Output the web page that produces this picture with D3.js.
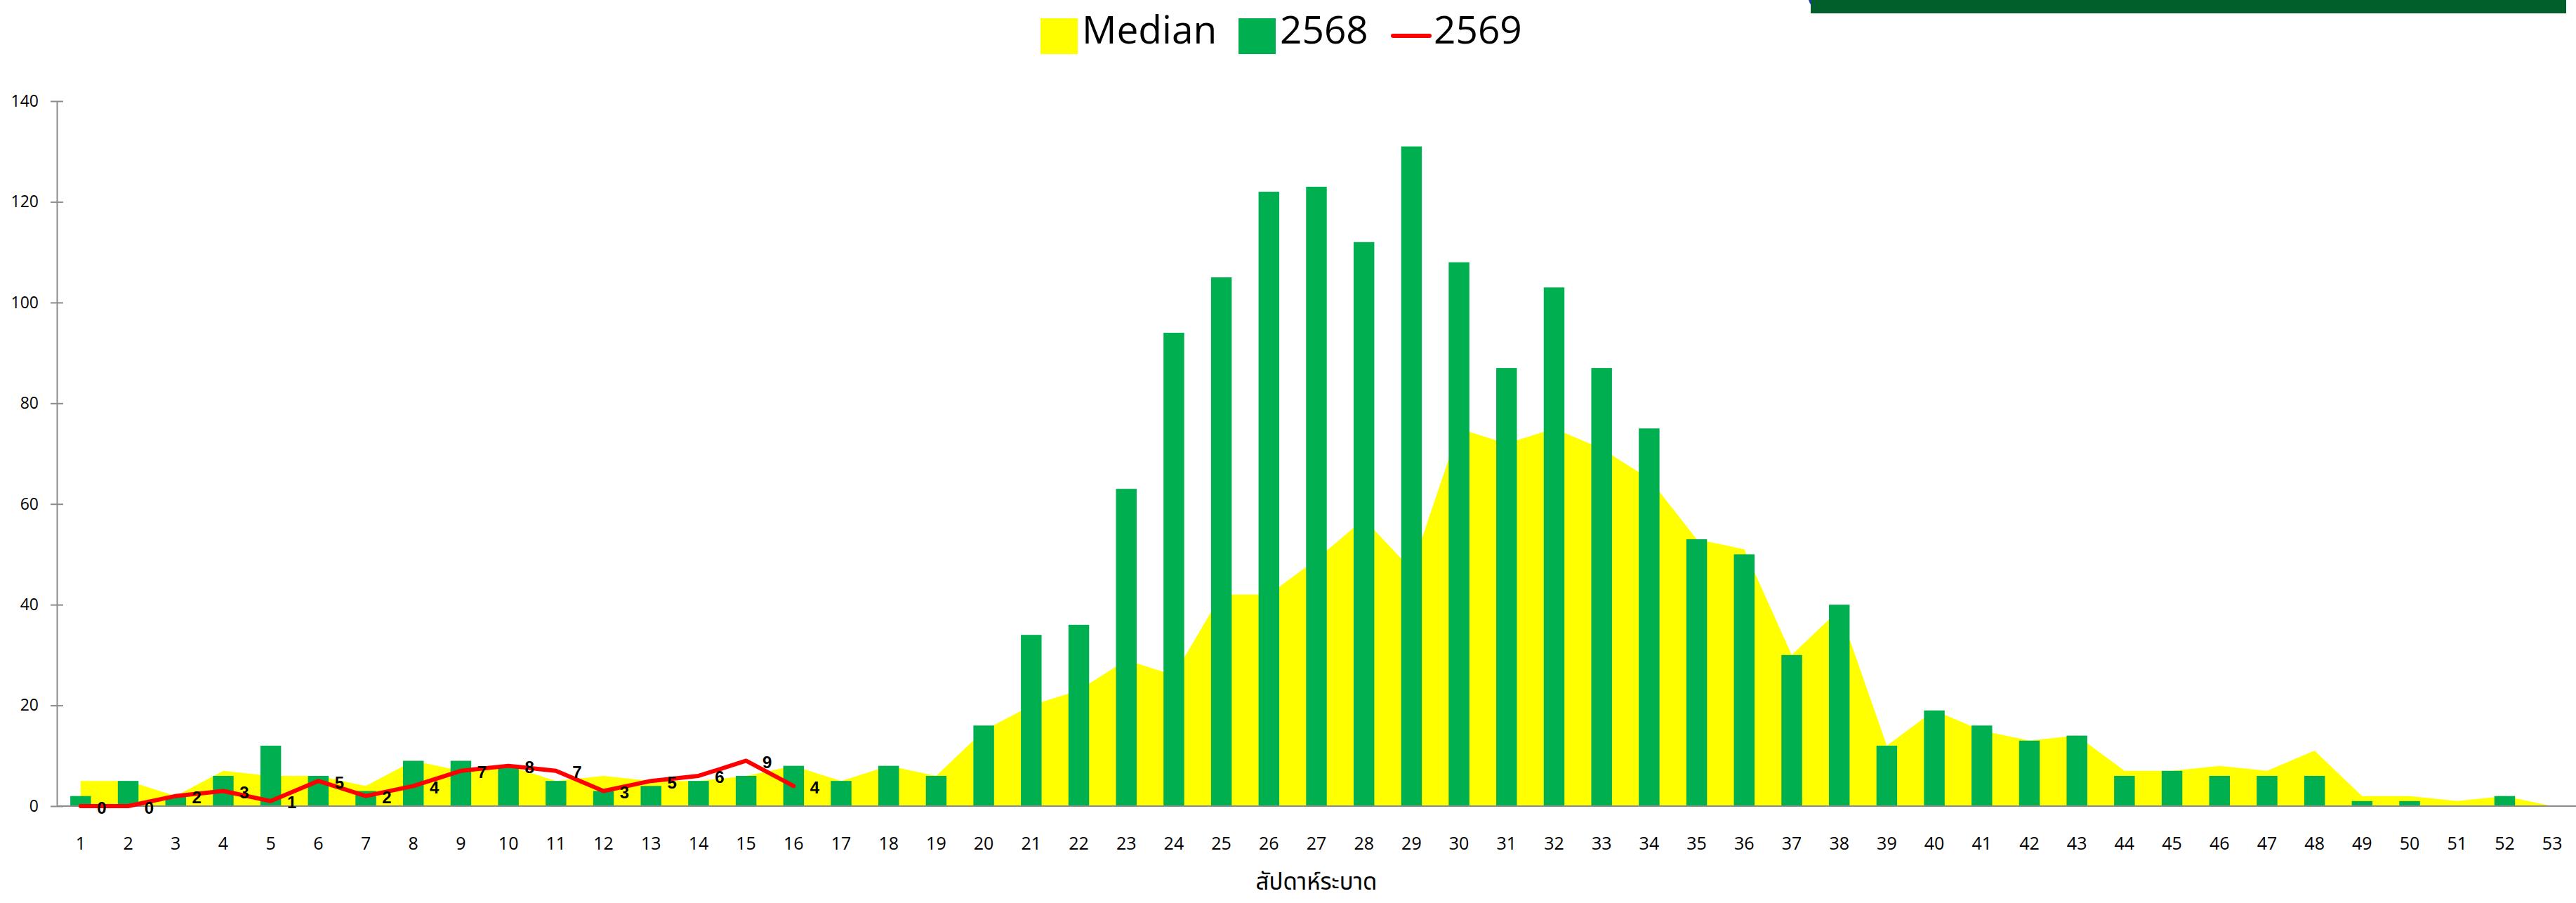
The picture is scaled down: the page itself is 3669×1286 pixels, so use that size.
<!DOCTYPE html>
<html>
<head>
<meta charset="utf-8">
<script src="https://cdn.jsdelivr.net/npm/d3@7/dist/d3.min.js"></script>
<style>
  html, body { margin: 0; padding: 0; background: #ffffff; }
  svg { display: block; }
</style>
</head>
<body>
<script>
// ---------------- data ----------------
const weeks = ["1","2","3","4","5","6","7","8","9","10","11","12","13","14","15","16","17","18","19","20",
  "21","22","23","24","25","26","27","28","29","30","31","32","33","34","35","36","37","38","39","40",
  "41","42","43","44","45","46","47","48","49","50","51","52","53"];
const median = [5,5,2,7,6,6,4,9,7,8,5,6,5,5,6,8,5,8,6,15,20,23,29,26,42,42,49,57,47,75,72,75,71,65,53,51,30,39,12,19,15,13,14,7,7,8,7,11,2,2,1,2,0];
const y2568 = [2,5,2,6,12,6,3,9,9,8,5,3,4,5,6,8,5,8,6,16,34,36,63,94,105,122,123,112,131,108,87,103,87,75,53,50,30,40,12,19,16,13,14,6,7,6,6,6,1,1,0,2,0];
const y2569 = [0,0,2,3,1,5,2,4,7,8,7,3,5,6,9,4];
const yTicks = [0,20,40,60,80,100,120,140];
const seriesNames = ["Median","2568","2569"];
const xTitle = "สัปดาห์ระบาด";

// ---------------- layout ----------------
const W = 3669, H = 1286;
const FONT = "'Open Sans', 'Liberation Sans', sans-serif";
const svg = d3.select("body").append("svg").attr("width", W).attr("height", H);

const x = d3.scaleBand().domain(weeks).range([81, 3669]).padding(0);
const y = d3.scaleLinear().domain([0, 140]).range([1148, 144]);
const cx = d => x(d) + x.bandwidth() / 2;
const barW = x.bandwidth() * 0.435;

// top green band
svg.append("rect").attr("x", 2579).attr("y", 0).attr("width", 1076).attr("height", 19).attr("fill", "#005F2B");
svg.append("path").attr("d", "M2576,0 L2580,0 L2580,8 Q2577,4 2576,0 Z").attr("fill", "#1F3F9F");

// median area
const area = d3.area()
  .x((d, i) => cx(weeks[i]))
  .y0(y(0))
  .y1(d => y(d));
svg.append("path").datum(median).attr("d", area).attr("fill", "#FFFF00");

// bars 2568
svg.append("g").selectAll("rect").data(y2568).join("rect")
  .attr("x", (d, i) => cx(weeks[i]) - barW / 2)
  .attr("y", d => y(d))
  .attr("width", barW)
  .attr("height", d => y(0) - y(d))
  .attr("fill", "#00B050");

// x axis line
svg.append("line").attr("x1", 81).attr("x2", 3669).attr("y1", y(0)).attr("y2", y(0))
  .attr("stroke", "#8C8C8C").attr("stroke-width", 2);

// y axis
const yAxis = d3.axisLeft(y).tickValues(yTicks).tickSizeInner(9).tickSizeOuter(0).tickPadding(17);
const gy = svg.append("g").attr("transform", "translate(81,0)").call(yAxis);
gy.select(".domain").attr("stroke", "#8C8C8C").attr("stroke-width", 2);
gy.selectAll(".tick line").attr("x1", -9).attr("x2", 9).attr("stroke", "#8C8C8C").attr("stroke-width", 2);
gy.selectAll(".tick text").attr("font-family", FONT).attr("font-size", 23).attr("fill", "#000");

// x tick labels
const xAxis = d3.axisBottom(x).tickSize(0).tickPadding(0);
const gx = svg.append("g").attr("transform", "translate(0,1148)").call(xAxis);
gx.select(".domain").remove();
gx.selectAll(".tick text").attr("font-family", FONT).attr("font-size", 25).attr("fill", "#000")
  .attr("dy", null).attr("y", 62);

// 2569 line
const wk2569 = weeks.slice(0, y2569.length);
const line = d3.line().x((d, i) => cx(wk2569[i])).y(d => y(d));
svg.append("path").datum(y2569).attr("d", line).attr("fill", "none")
  .attr("stroke", "#FF0000").attr("stroke-width", 6)
  .attr("stroke-linejoin", "round").attr("stroke-linecap", "round");

// 2569 labels
svg.append("g").selectAll("text").data(y2569).join("text")
  .attr("x", (d, i) => cx(wk2569[i]) + 30)
  .attr("y", d => y(d) + 2)
  .attr("text-anchor", "middle")
  .attr("dominant-baseline", "central")
  .attr("font-family", "'Liberation Sans', sans-serif")
  .attr("font-weight", "bold")
  .attr("font-size", 24)
  .attr("fill", "#000")
  .text(d => d);

// x title
svg.append("text").attr("x", 1875).attr("y", 1267).attr("text-anchor", "middle")
  .attr("font-family", "'Noto Sans Thai', 'Noto Sans', 'DejaVu Sans', sans-serif")
  .attr("font-size", 33).attr("fill", "#000").text(xTitle);

// legend
const lg = svg.append("g");
lg.append("rect").attr("x", 1482).attr("y", 26).attr("width", 53).attr("height", 51).attr("fill", "#FFFF00");
lg.append("text").attr("x", 1541).attr("y", 62).attr("font-family", FONT).attr("font-size", 55).text(seriesNames[0]);
lg.append("rect").attr("x", 1764).attr("y", 26).attr("width", 53).attr("height", 51).attr("fill", "#00B050");
lg.append("text").attr("x", 1823).attr("y", 62).attr("font-family", FONT).attr("font-size", 55).text(seriesNames[1]);
lg.append("line").attr("x1", 1984).attr("x2", 2036).attr("y1", 51).attr("y2", 51)
  .attr("stroke", "#FF0000").attr("stroke-width", 6).attr("stroke-linecap", "round");
lg.append("text").attr("x", 2042).attr("y", 62).attr("font-family", FONT).attr("font-size", 55).text(seriesNames[2]);
</script>
</body>
</html>
